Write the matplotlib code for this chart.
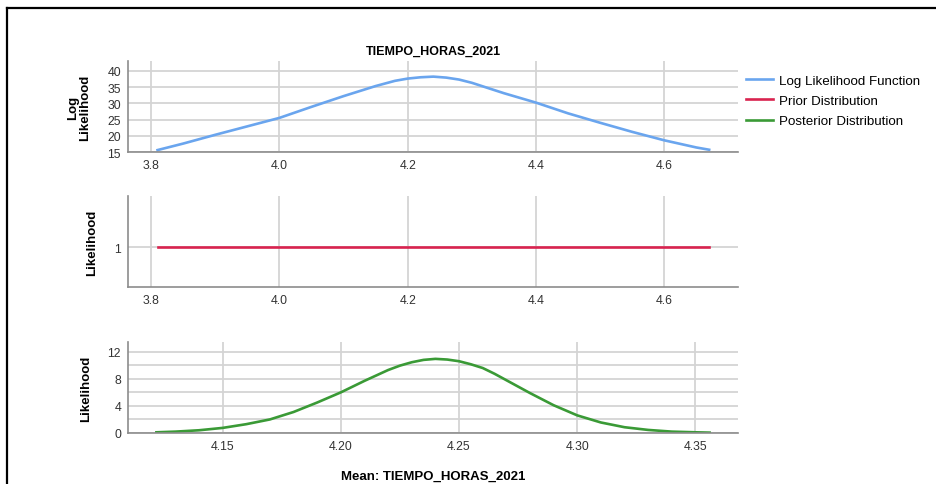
import numpy as np
import matplotlib
matplotlib.use("Agg")
import matplotlib.pyplot as plt
from matplotlib.lines import Line2D

plt.rcParams["font.family"] = ["Liberation Sans", "DejaVu Sans"]

TITLE = "TIEMPO_HORAS_2021"
XLABEL = "Mean: TIEMPO_HORAS_2021"

# log likelihood function
ll_x = [3.81, 3.85, 3.90, 3.95, 4.00, 4.05, 4.10, 4.15, 4.18, 4.20, 4.22, 4.24,
        4.26, 4.28, 4.30, 4.35, 4.40, 4.45, 4.50, 4.55, 4.60, 4.65, 4.67]
ll_y = [15.6, 17.6, 20.3, 22.9, 25.5, 28.9, 32.2, 35.3, 36.9, 37.6, 38.0, 38.2,
        37.9, 37.3, 36.3, 33.1, 30.2, 26.9, 24.0, 21.2, 18.6, 16.4, 15.7]

# prior distribution (flat)
prior_x = [3.81, 4.67]
prior_y = [1, 1]

# posterior distribution
post_x = [4.122, 4.13, 4.14, 4.15, 4.16, 4.17, 4.18, 4.19, 4.20, 4.21, 4.22, 4.225, 4.23,
          4.235, 4.24, 4.245, 4.25, 4.255, 4.26, 4.265, 4.27, 4.28, 4.29, 4.30, 4.31,
          4.32, 4.33, 4.34, 4.35, 4.356]
post_y = [0.1, 0.2, 0.4, 0.75, 1.3, 2.0, 3.1, 4.5, 6.0, 7.7, 9.3, 9.95, 10.45,
          10.8, 10.95, 10.85, 10.6, 10.15, 9.6, 8.75, 7.8, 5.9, 4.1, 2.6, 1.55,
          0.85, 0.45, 0.2, 0.1, 0.05]

SERIES = ["Log Likelihood Function", "Prior Distribution", "Posterior Distribution"]
COLORS = ["#6aa5ee", "#d9234f", "#3a9a36"]

GRID = "#d4d4d4"
SPINE = "#8c8c8c"
TICK = "#333333"


def style(ax):
    for s in ["top", "right"]:
        ax.spines[s].set_visible(False)
    for s in ["left", "bottom"]:
        ax.spines[s].set_color(SPINE)
        ax.spines[s].set_linewidth(1.2)
    ax.grid(True, color=GRID, linewidth=1.3)
    ax.set_axisbelow(True)
    ax.tick_params(length=0, labelsize=8.8, colors=TICK, pad=5)


fig = plt.figure(figsize=(9.36, 4.85), dpi=100)

left, width = 0.1368, 0.6517

# top panel: log likelihood
ax1 = fig.add_axes([left, 0.6845, width, 0.1876])
style(ax1)
ax1.plot(ll_x, ll_y, color=COLORS[0], lw=1.9)
ax1.set_xlim(3.764, 4.715)
ax1.set_ylim(15, 43)
ax1.set_xticks([3.8, 4.0, 4.2, 4.4, 4.6])
ax1.set_yticks([15, 20, 25, 30, 35, 40])
ax1.set_ylabel("Log\nLikelihood", fontsize=9.5, fontweight="bold", linespacing=0.95)
ax1.yaxis.set_label_coords(-0.061, 0.5)
ax1.set_title(TITLE, fontsize=9, fontweight="bold", pad=5)

# middle panel: prior
ax2 = fig.add_axes([left, 0.4056, width, 0.1876])
style(ax2)
ax2.plot(prior_x, prior_y, color=COLORS[1], lw=1.9)
ax2.set_xlim(3.764, 4.715)
ax2.set_ylim(0, 2.27)
ax2.set_xticks([3.8, 4.0, 4.2, 4.4, 4.6])
ax2.set_yticks([1])
ax2.set_ylabel("Likelihood", fontsize=9.5, fontweight="bold")
ax2.yaxis.set_label_coords(-0.049, 0.5)

# bottom panel: posterior
ax3 = fig.add_axes([left, 0.1052, width, 0.187])
style(ax3)
ax3.plot(post_x, post_y, color=COLORS[2], lw=1.9)
ax3.set_xlim(4.110, 4.368)
ax3.set_ylim(0, 13.4)
ax3.set_xticks([4.15, 4.20, 4.25, 4.30, 4.35])
ax3.set_xticklabels(["4.15", "4.20", "4.25", "4.30", "4.35"])
ax3.set_yticks([0, 2, 4, 6, 8, 10, 12])
ax3.set_yticklabels(["0", "", "4", "", "8", "", "12"])
ax3.set_ylabel("Likelihood", fontsize=9.5, fontweight="bold")
ax3.yaxis.set_label_coords(-0.059, 0.5)
ax3.set_xlabel(XLABEL, fontsize=9.5, fontweight="bold", labelpad=13)

# legend
handles = [Line2D([], [], color=c, lw=1.9) for c in COLORS]
fig.legend(handles, SERIES, loc="upper left", bbox_to_anchor=(0.7915, 0.856),
           frameon=False, fontsize=9.6, handlelength=2.0, handletextpad=0.45,
           labelspacing=0.6, borderaxespad=0)

# screenshot frame
fig.add_artist(Line2D([0.0075, 1.0], [1 - 9 / 485, 1 - 9 / 485], color="black", lw=1.6,
                      transform=fig.transFigure))
fig.add_artist(Line2D([0.0075, 0.0075], [0.0, 1 - 9 / 485], color="black", lw=1.6,
                      transform=fig.transFigure))

fig.savefig("out.png", dpi=100)
